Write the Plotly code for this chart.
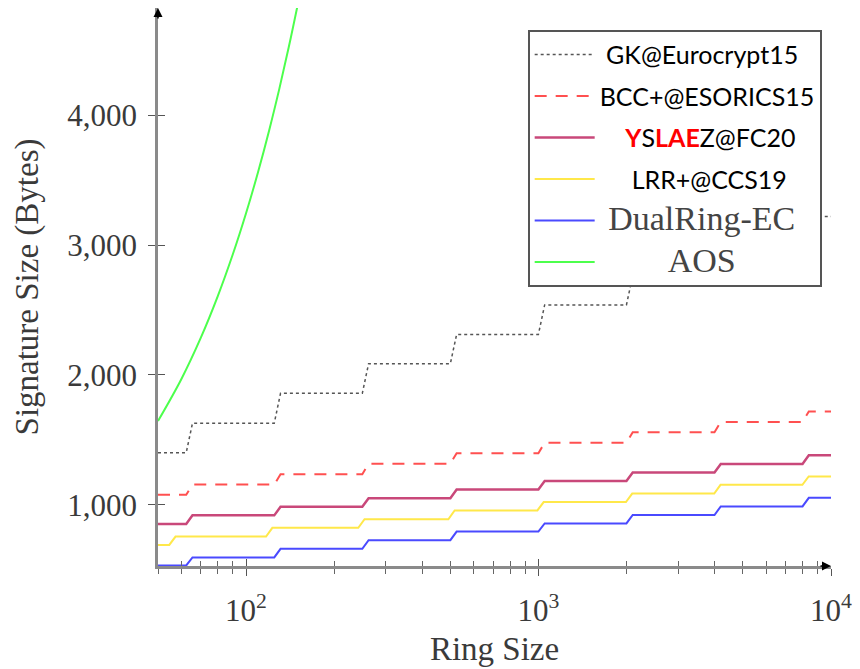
import math
import plotly.graph_objects as go

# ---------------- data ----------------
ring_breaks = [64, 128, 256, 512, 1024, 2048, 4096, 8192]
lrr_breaks = [56, 120, 248, 504, 1016, 2040, 4088, 8184]

gk_levels = [1401, 1628, 1858, 2086, 2312, 2539, 2766, 2993, 3220]
bcc_levels = [1076, 1155, 1235, 1316, 1397, 1478, 1558, 1638, 1719]
yslaez_levels = [852, 918, 984, 1050, 1117, 1182, 1248, 1314, 1381]
lrr_levels = [690, 755, 822, 888, 956, 1020, 1086, 1153, 1218]
dualring_levels = [532, 594, 660, 727, 793, 856, 921, 987, 1053]

aos_ring = [50, 60, 70, 80, 90, 100, 110, 120, 130, 140, 150]
aos_size = [1645, 1965, 2285, 2605, 2925, 3245, 3565, 3885, 4205, 4525, 4845]

x_min, x_max = 50, 10000
y_min, y_max = 528, 4826

x_tick_vals = [100, 1000, 10000]
x_tick_text = ["10<sup>2</sup>", "10<sup>3</sup>", "10<sup>4</sup>"]
x_minor_vals = [50, 60, 70, 80, 90, 200, 300, 400, 500, 600, 700, 800, 900,
                2000, 3000, 4000, 5000, 6000, 7000, 8000, 9000]
y_tick_vals = [1000, 2000, 3000, 4000]
y_tick_text = ["1,000", "2,000", "3,000", "4,000"]

SERIF_SPAN = "<span style='font-family:Liberation Serif;font-size:34px;color:#444444'>"
names = {
    "gk": "\u00a0GK@Eurocrypt15",
    "bcc": "BCC+@ESORICS15",
    "yslaez": "\u00a0\u00a0\u00a0\u00a0<span style='color:#ff0000'><b>Y</b></span>S"
              "<span style='color:#ff0000'><b>LAE</b></span>Z@FC20",
    "lrr": "\u00a0\u00a0\u00a0\u00a0\u00a0LRR+@CCS19",
    "dual": SERIF_SPAN + "\u00a0DualRing-EC</span>",
    "aos": SERIF_SPAN + "\u00a0\u00a0\u00a0\u00a0\u00a0\u00a0\u00a0\u00a0AOS</span>",
}

RAMP = 1.025  # half-width (multiplicative) of the sampled step ramps


def step_series(breaks, levels):
    xs, ys = [x_min], [levels[0]]
    for i, b in enumerate(breaks):
        xs += [b / RAMP, b * RAMP]
        ys += [levels[i], levels[i + 1]]
    xs.append(x_max)
    ys.append(levels[-1])
    return xs, ys


fig = go.Figure()

series = [
    ("gk", ring_breaks, gk_levels, dict(color="#555555", width=1.5, dash="dot")),
    ("bcc", ring_breaks, bcc_levels, dict(color="#ff5050", width=2, dash="12px,9px")),
    ("yslaez", ring_breaks, yslaez_levels, dict(color="#c9487a", width=2.5)),
    ("lrr", lrr_breaks, lrr_levels, dict(color="#ffe84a", width=2)),
    ("dual", ring_breaks, dualring_levels, dict(color="#4a4aff", width=2)),
]
for key, br, lv, ln in series:
    xs, ys = step_series(br, lv)
    fig.add_trace(go.Scatter(x=xs, y=ys, mode="lines", name=names[key], line=ln,
                             legendgroup=key, hoverinfo="skip"))

fig.add_trace(go.Scatter(x=aos_ring, y=aos_size, mode="lines", name=names["aos"],
                         line=dict(color="#4cff4c", width=2, shape="spline"),
                         legendgroup="aos", hoverinfo="skip"))

# invisible trace to activate the overlay axes used for the inner half of the ticks
fig.add_trace(go.Scatter(x=[None], y=[None], xaxis="x2", yaxis="y2", showlegend=False,
                         hoverinfo="skip"))

axis_col = "#8a8a8a"
tick_font = dict(family="Liberation Serif", size=31, color="#3a3a3a")
xr = [math.log10(x_min), math.log10(x_max)]

fig.update_layout(
    width=860, height=669,
    margin=dict(l=158, r=23, t=8, b=97.5),
    plot_bgcolor="white", paper_bgcolor="white",
    showlegend=True,
    xaxis=dict(type="log", range=xr, tickmode="array", tickvals=x_tick_vals,
               ticktext=x_tick_text, ticks="outside", ticklen=7, tickwidth=1.2,
               tickcolor="#555555", showline=True, linecolor=axis_col, linewidth=2.5,
               showgrid=False, zeroline=False, tickfont=tick_font,
               ticklabelstandoff=8,
               minor=dict(tickmode="array", tickvals=x_minor_vals, ticks="outside",
                          ticklen=5, tickwidth=1, tickcolor="#666666", showgrid=False),
               title=dict(text="Ring Size", standoff=10,
                          font=dict(family="Liberation Serif", size=33, color="#3a3a3a"))),
    yaxis=dict(range=[y_min, y_max], tickmode="array", tickvals=y_tick_vals,
               ticktext=y_tick_text, ticks="outside", ticklen=7, tickwidth=1.2,
               tickcolor="#555555", showline=True, linecolor=axis_col, linewidth=2.5,
               showgrid=False, zeroline=False, tickfont=tick_font,
               ticklabelstandoff=5,
               title=dict(text="Signature Size (Bytes)", standoff=19,
                          font=dict(family="Liberation Serif", size=33, color="#3a3a3a"))),
    xaxis2=dict(type="log", range=xr, overlaying="x", anchor="y2", side="bottom",
                tickmode="array", tickvals=x_tick_vals, ticks="inside", ticklen=7,
                tickwidth=1.2, tickcolor="#555555", showticklabels=False,
                showline=False, showgrid=False, zeroline=False,
                minor=dict(tickmode="array", tickvals=x_minor_vals, ticks="inside",
                           ticklen=5, tickwidth=1, tickcolor="#666666", showgrid=False)),
    yaxis2=dict(range=[y_min, y_max], overlaying="y", anchor="x2", side="left",
                tickmode="array", tickvals=y_tick_vals, ticks="inside", ticklen=7,
                tickwidth=1.2, tickcolor="#555555", showticklabels=False,
                showline=False, showgrid=False, zeroline=False),
    legend=dict(x=0.5493, y=0.961, xanchor="left", yanchor="top",
                bgcolor="white", bordercolor="#555555", borderwidth=2,
                font=dict(family="Lato", size=25, color="black"),
                itemwidth=60, tracegroupgap=6, traceorder="grouped"),
    annotations=[
        dict(x=0, y=1, xref="paper", yref="paper", ax=0, ay=12, text="",
             showarrow=True, arrowhead=2, arrowsize=1.2, arrowwidth=1.5,
             arrowcolor="black"),
        dict(x=1, y=0, xref="paper", yref="paper", ax=-12, ay=0, text="",
             showarrow=True, arrowhead=2, arrowsize=1.2, arrowwidth=1.5,
             arrowcolor="black"),
    ],
)

fig.write_html("out.html")
